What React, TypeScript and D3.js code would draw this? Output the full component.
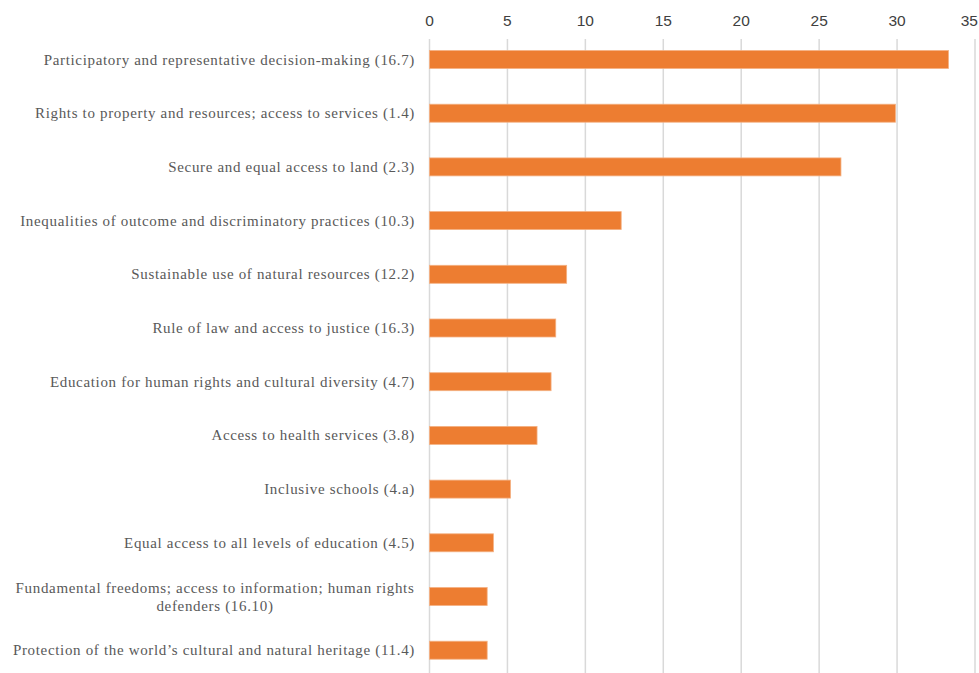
import React from "react";
import * as d3 from "d3";

const categories: string[][] = [
  ["Participatory and representative decision-making (16.7)"],
  ["Rights to property and resources; access to services (1.4)"],
  ["Secure and equal access to land (2.3)"],
  ["Inequalities of outcome and discriminatory practices (10.3)"],
  ["Sustainable use of natural resources (12.2)"],
  ["Rule of law and access to justice (16.3)"],
  ["Education for human rights and cultural diversity (4.7)"],
  ["Access to health services (3.8)"],
  ["Inclusive schools (4.a)"],
  ["Equal access to all levels of education (4.5)"],
  ["Fundamental freedoms; access to information; human rights", "defenders (16.10)"],
  ["Protection of the world\u2019s cultural and natural heritage (11.4)"],
];
const values: number[] = [33.3, 29.9, 26.4, 12.3, 8.8, 8.1, 7.8, 6.9, 5.2, 4.1, 3.7, 3.7];
const ticks: number[] = [0, 5, 10, 15, 20, 25, 30, 35];

const W = 979;
const H = 673;
const SERIF = "Liberation Serif, DejaVu Serif, serif";

export default function App() {
  const x = d3.scaleLinear().domain([0, 35]).range([429.5, 975]);
  const y = d3
    .scaleBand<number>()
    .domain(d3.range(categories.length))
    .range([32.65, 32.65 + 53.7 * categories.length])
    .paddingInner(0.665)
    .paddingOuter(0.665 / 2);
  const labelX = 415;
  const fs = 15;
  const ls = 0.67;
  return (
    <svg
      width={W}
      height={H}
      style={{ position: "absolute", left: 0, top: 0, background: "#fff" }}
    >
      {ticks.map((t, k) => {
        const last = k === ticks.length - 1;
        return (
          <g key={t}>
            <line
              x1={x(t)}
              x2={x(t)}
              y1={39}
              y2={H}
              stroke="#d9d9d9"
              strokeWidth={1.5}
            />
            <text
              x={last ? 978 : x(t)}
              y={20}
              textAnchor={last ? "end" : "middle"}
              dominantBaseline="central"
              fontFamily="Liberation Sans, Arial, sans-serif"
              fontSize={15.5}
              fill="#404040"
            >
              {t}
            </text>
          </g>
        );
      })}
      {values.map((v, i) => (
        <rect
          key={i}
          x={x(0)}
          y={y(i)!}
          width={x(v) - x(0)}
          height={y.bandwidth()}
          fill="#ED7D31"
          stroke="#F4B183"
          strokeWidth={0.8}
        />
      ))}
      {categories.map((lines, i) => {
        const cy = y(i)! + y.bandwidth() / 2;
        const lh = 18;
        const start = cy - ((lines.length - 1) * lh) / 2;
        if (lines.length === 1) {
          return (
            <text
              key={i}
              x={labelX}
              y={cy}
              textAnchor="end"
              dominantBaseline="central"
              fontFamily={SERIF}
              fontSize={fs}
              letterSpacing={ls}
              fill="#595959"
            >
              {lines[0]}
            </text>
          );
        }
        return (
          <text
            key={i}
            fontFamily={SERIF}
            fontSize={fs}
            letterSpacing={ls}
            fill="#595959"
            textAnchor="middle"
            dominantBaseline="central"
          >
            {lines.map((l, j) => (
              <tspan key={j} x={215} y={start + j * lh}>
                {l}
              </tspan>
            ))}
          </text>
        );
      })}
    </svg>
  );
}
